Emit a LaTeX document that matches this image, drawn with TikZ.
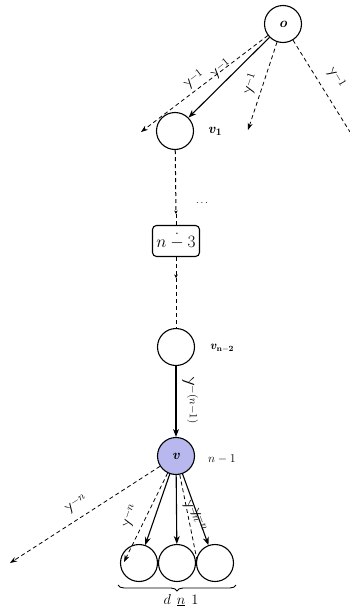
\documentclass[tikz,border=0pt]{standalone}
\usetikzlibrary{arrows.meta,decorations.pathreplacing}
\definecolor{lav}{RGB}{184,184,238}
% lambda drawn upside down, as the edge weights print it
\newcommand{\flam}{\raisebox{\depth}{\scalebox{1}[-1]{$\lambda$}}}
\newcommand{\fsbig}{\fontsize{14}{16}\selectfont}
\newcommand{\fsbox}{\fontsize{16}{18}\selectfont}
\newcommand{\fsmid}{\fontsize{13}{15}\selectfont}
\newcommand{\fswt}{\fontsize{15}{17}\selectfont}
\newcommand{\fswl}{\fontsize{16}{18}\selectfont}
\newcommand{\fsva}{\fontsize{14}{16}\selectfont}
\newcommand{\fssub}{\fontsize{12}{14}\selectfont}
\newcommand{\fsbr}{\fontsize{14}{16}\selectfont}
\newcommand{\bi}[1]{\textbf{\textit{#1}}}
\begin{document}
\begin{tikzpicture}[x=1pt,y=1pt,
  vtx/.style={circle,draw,line width=1.1pt,minimum size=37pt,inner sep=0pt},
  boxnode/.style={draw,line width=1.1pt,rounded corners=4pt,minimum width=47pt,minimum height=31pt,inner sep=1pt},
  solidarr/.style={line width=1.1pt,-{Stealth[length=8pt,width=6pt]}},
  dasharr/.style={line width=0.8pt,dash pattern=on 4pt off 3pt,-{Stealth[length=7pt,width=5pt]}},
  dashln/.style={line width=0.8pt,dash pattern=on 4pt off 3pt},
  vdash/.style={line width=1pt,dash pattern=on 4pt off 3pt},
  midtip/.style={vdash,-{Stealth[length=3.5pt,width=3.5pt]}},
  wlab/.style={inner sep=1pt},
  nlab/.style={inner sep=1pt}]
\useasboundingbox (0,-608) rectangle (349,0);

% vertices
\node[vtx] (root) at (283,-24) {\fsbig\bi{o}};
\node[vtx] (va) at (175,-131) {};
\node[nlab] (lva) at (215,-131) {\fsva\bi{v}$_{\mathbf{1}}$};
\node[nlab] (dots) at (202,-203) {$\cdots$};
\node[boxnode] (bx) at (176,-241) {\fsbox$n \mathbin{\dot{-}} 3$};
\node[vtx] (vb) at (176,-347) {};
\node[nlab] (lvb) at (222,-348) {\fssub\bi{v}$_{\mathbf{n-2}}$};
\node[vtx,fill=lav] (vv) at (176,-456) {\fsbig\bi{v}};
\node[nlab] (lvv) at (222,-459) {\fsmid$n-1$};
\node[vtx] (ca) at (139,-563) {};
\node[vtx] (cb) at (177,-563) {};
\node[vtx] (cc) at (215,-563) {};

% edges out of the root
\coordinate (ea) at (141,-132);
\coordinate (eb) at (248,-130);
\coordinate (ec) at (350,-132);
\draw[dasharr] (root) -- (ea);
\draw[solidarr] (root) -- (va);
\draw[dasharr] (root) -- (eb);
\draw[dashln] (root) -- (ec);
\node[wlab,rotate=37] (wa) at (194,-80) {\fswt$\flam^{-1}$};
\node[wlab,rotate=40] (wb) at (221,-69) {\fswt$\flam^{-1}$};
\node[wlab,rotate=72] (wc) at (251,-84) {\fswt$\flam^{-1}$};
\node[wlab,rotate=-59] (wd) at (336,-78) {\fswt$\flam^{-1}$};

% the path down to v
\coordinate (ma) at (176,-214);
\coordinate (mb) at (176,-278);
\draw[midtip] (va) -- (ma);
\draw[vdash] (ma) -- (bx);
\draw[midtip] (bx) -- (mb);
\draw[vdash] (mb) -- (vb);
\draw[solidarr] (vb) -- (vv);
\node[wlab,rotate=-90] (we) at (190,-400) {\fswl$\flam^{-(n-1)}$};

% edges out of v
\coordinate (fa) at (10,-563);
\coordinate (fb) at (124,-562);
\coordinate (fc) at (197,-560);
\draw[dasharr] (vv) -- (fa);
\draw[dasharr] (vv) -- (fb);
\draw[dashln] (vv) -- (fc);
\draw[solidarr] (vv) -- (ca);
\draw[solidarr] (vv) -- (cb);
\draw[solidarr] (vv) -- (cc);
\node[wlab,rotate=33] (wf) at (76,-504) {\fswt$\flam^{-n}$};
\node[wlab,rotate=72] (wg) at (130,-516) {\fswt$\flam^{-n}$};
\node[wlab,rotate=-70] (wh) at (191,-512) {\fswt$\flam^{-n}$};
\node[wlab,rotate=-70] (wi) at (199,-520) {\fswt$\flam^{-n}$};

% children brace
\coordinate (bl) at (118,-585);
\coordinate (br) at (236,-585);
\draw[line width=0.9pt,decorate,decoration={brace,mirror,amplitude=6pt}] (bl) -- (br);
\node[nlab] (dl) at (181,-600) {\fsbr$d$\hspace{6pt}$\underline{n}$\hspace{6pt}$1$};
\end{tikzpicture}
\end{document}
